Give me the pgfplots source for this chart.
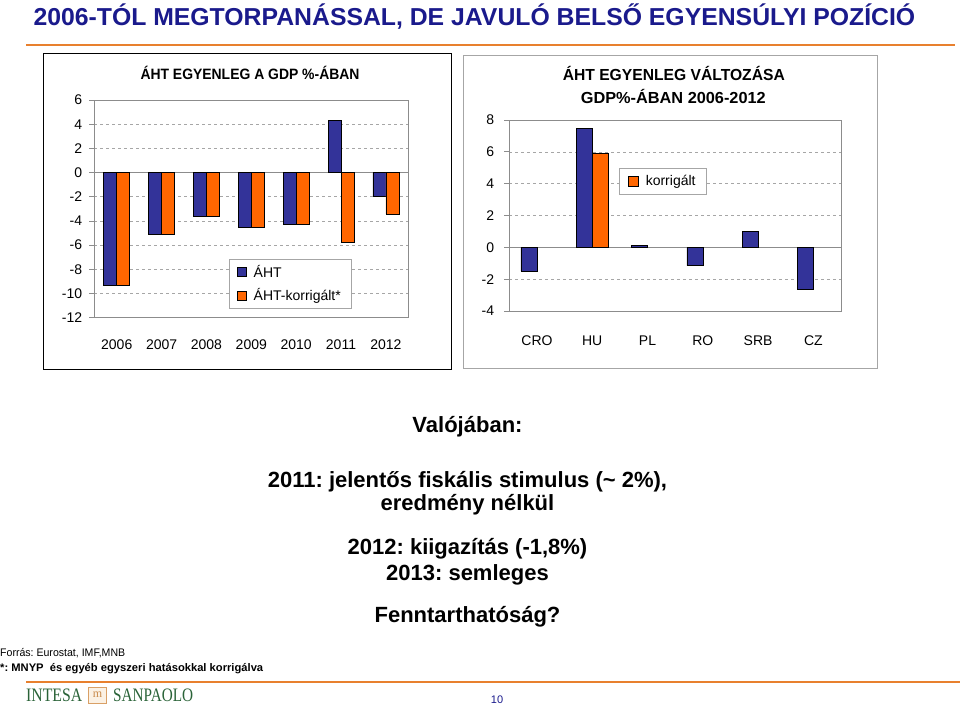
\documentclass[border=0pt]{standalone}
\usepackage{pgfplots}
\pgfplotsset{compat=1.18}
\usepackage{graphicx}
\usepackage{fontspec}
\setmainfont{Liberation Sans}
\newfontfamily\logoserif{Liberation Serif}
\frenchspacing
\definecolor{ahtblue}{HTML}{333399}
\definecolor{ahtorange}{HTML}{FF6600}
\definecolor{titleblue}{HTML}{1A1A8C}
\definecolor{lineorange}{HTML}{E8802E}
\definecolor{gridgray}{HTML}{A6A6A6}
\definecolor{axgray}{HTML}{8C8C8C}
\definecolor{logogreen}{HTML}{2A6338}
\definecolor{logoboxdraw}{HTML}{D9A066}
\definecolor{logoboxfill}{HTML}{FBF1E4}
\definecolor{logom}{HTML}{C98A4A}
\newcommand\tickfont{\fontsize{14}{16}\selectfont}
\pgfplotsset{
  swatch/.style={legend image code/.code={\draw[##1,draw=black,line width=0.5pt] (0pt,-4.5pt) rectangle (9pt,4.5pt); \path (14pt,0pt);}},
  bigswatch/.style={legend image code/.code={\draw[##1,draw=black,line width=0.5pt] (0pt,-5pt) rectangle (10pt,5pt); \path (15pt,0pt);}},
  excelaxis/.style={
    anchor=south west, scale only axis,
    axis line style={draw=axgray, line width=0.8pt},
    ymajorgrids,
    major grid style={draw=gridgray, dash pattern=on 3pt off 3pt, line width=0.6pt},
    ytick pos=left, tick align=outside, major tick length=5pt,
    y tick style={draw=axgray, line width=0.8pt},
    x tick style={draw=none},
    tick label style={font=\tickfont},
    /pgf/number format/assume math mode=true,
    ybar=0pt,
    legend cell align=left,
  }
}
\begin{document}
\begin{tikzpicture}
\path[use as bounding box] (0pt,0pt) rectangle (960pt,-709pt);
\begin{scope}[x=1pt,y=-1pt]
  % title
  \node[anchor=base west, text=titleblue, inner sep=0] at (33.3,26)
    {\resizebox{881.7pt}{\height}{\fontsize{24.5}{24.5}\selectfont\bfseries 2006-TÓL MEGTORPANÁSSAL, DE JAVULÓ BELSŐ EGYENSÚLYI POZÍCIÓ}};
  \draw[lineorange, line width=2pt] (26,45.5) -- (955,45.5);
  % frames
  \draw[black, line width=1.3pt] (43.3,53.3) rectangle (451.7,369.3);
  \draw[gridgray, line width=0.8pt] (463,55) rectangle (877,368);
  % chart titles
  \node[anchor=base, inner sep=0] at (250,79.3)
    {\resizebox{219pt}{\height}{\fontsize{15}{15}\selectfont\bfseries ÁHT EGYENLEG A GDP \%-ÁBAN}};
  \node[anchor=base, inner sep=0] at (673.8,80.7)
    {\resizebox{222pt}{\height}{\fontsize{16}{16}\selectfont\bfseries ÁHT EGYENLEG VÁLTOZÁSA}};
  \node[anchor=base, inner sep=0] at (673.3,103.3)
    {\resizebox{185pt}{\height}{\fontsize{16}{16}\selectfont\bfseries GDP\%-ÁBAN 2006-2012}};
  % middle text
  \begin{scope}[every node/.style={anchor=base, inner sep=0, font=\fontsize{22}{22}\selectfont\bfseries}]
    \node at (467.5,432.3) {Valójában:};
    \node at (467.5,487.3) {2011: jelentős fiskális stimulus (\textasciitilde{} 2\%),};
    \node at (467.5,510.7) {eredmény nélkül};
    \node at (467.5,554.3) {2012: kiigazítás (-1,8\%)};
    \node at (467.5,580) {2013: semleges};
    \node at (467.5,622.7) {Fenntarthatóság?};
  \end{scope}
  % footer
  \node[anchor=base west, inner sep=0] at (0,656)
    {\resizebox{125pt}{\height}{\fontsize{11}{11}\selectfont Forrás: Eurostat, IMF,MNB}};
  \node[anchor=base west, inner sep=0] at (0,671)
    {\resizebox{263pt}{\height}{\fontsize{11}{11}\selectfont\bfseries *: MNYP\ \ és egyéb egyszeri hatásokkal korrigálva}};
  \draw[lineorange, line width=2pt] (26,682) -- (960,682);
  \node[anchor=base west, inner sep=0, text=logogreen] at (26,701.7)
    {\resizebox{56pt}{\height}{\fontsize{19}{19}\selectfont\logoserif INTESA}};
  \draw[draw=logoboxdraw, fill=logoboxfill, line width=0.8pt] (88.3,687.3) rectangle (106.7,703.3);
  \node[text=logom, inner sep=0, font=\fontsize{12}{12}\selectfont\logoserif] at (97.5,694.5) {m};
  \node[anchor=base west, inner sep=0, text=logogreen] at (113,701.7)
    {\resizebox{80pt}{\height}{\fontsize{19}{19}\selectfont\logoserif SANPAOLO}};
  \node[anchor=base, inner sep=0, text=titleblue, font=\fontsize{11}{11}\selectfont] at (497,703) {10};
\end{scope}

% left chart
\begin{axis}[excelaxis,
  at={(94.3pt,-317.7pt)},
  width=314pt, height=217.7pt,
  xmin=-0.5, xmax=6.5, ymin=-12, ymax=6,
  ytick={-12,-10,...,6},
  xtick={0,...,6}, xticklabels={2006,2007,2008,2009,2010,2011,2012},
  xticklabel style={yshift=-13.5pt},
  yticklabel style={xshift=-3.6pt},
  bar width=13pt,
  legend style={at={(0.429,0.27)}, anchor=north west, draw=gridgray, fill=white,
    font=\tickfont, inner xsep=8pt, inner ysep=4pt, row sep=6pt},
]
\draw[axgray, line width=0.8pt] (axis cs:-0.5,0) -- (axis cs:6.5,0);
\addplot[fill=ahtblue, draw=black, line width=0.5pt, bar shift=-6.5pt, swatch]
  coordinates {(0,-9.35) (1,-5.07) (2,-3.6) (3,-4.5) (4,-4.25) (5,4.3) (6,-1.93)};
\addlegendentry{ÁHT}
\addplot[fill=ahtorange, draw=black, line width=0.5pt, bar shift=6.5pt, swatch]
  coordinates {(0,-9.35) (1,-5.07) (2,-3.6) (3,-4.5) (4,-4.25) (5,-5.76) (6,-3.42)};
\addlegendentry{ÁHT-korrigált*}
\end{axis}

% right chart
\begin{axis}[excelaxis,
  at={(509.3pt,-311pt)},
  width=331.7pt, height=191pt,
  xmin=-0.5, xmax=5.5, ymin=-4, ymax=8,
  ytick={-4,-2,...,8},
  xtick={0,...,5}, xticklabels={CRO,HU,PL,RO,SRB,CZ},
  xticklabel style={yshift=-16pt},
  yticklabel style={xshift=-6.6pt},
  bar width=16pt,
  legend style={at={(0.331,0.749)}, anchor=north west, draw=gridgray, fill=white,
    font=\tickfont, inner xsep=9pt, inner ysep=5pt},
]
\draw[axgray, line width=0.8pt] (axis cs:-0.5,0) -- (axis cs:5.5,0);
\addplot[fill=ahtblue, draw=black, line width=0.5pt, bar shift=-8pt, forget plot]
  coordinates {(0,-1.49) (1,7.46) (2,0.13) (3,-1.15) (4,1.0) (5,-2.66)};
\addplot[fill=ahtorange, draw=black, line width=0.5pt, bar shift=8pt, bigswatch]
  coordinates {(1,5.93)};
\addlegendentry{korrigált}
\end{axis}
\end{tikzpicture}
\end{document}
